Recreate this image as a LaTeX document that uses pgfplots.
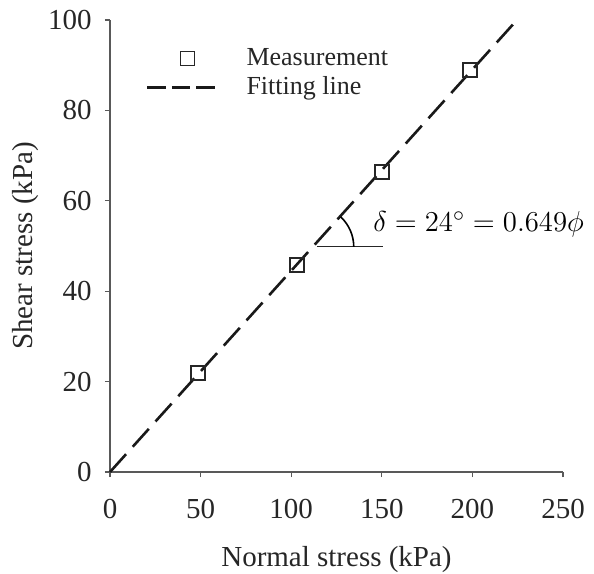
\documentclass[border=0pt]{standalone}
\usepackage{fontspec}
\setmainfont{Liberation Serif}
\usepackage{pgfplots}
\pgfplotsset{compat=1.18}
\pgfplotsset{
  sqlegend/.style={legend image code/.code={\draw[##1, mark repeat=2, mark phase=2] plot coordinates {(0pt,0pt) (20pt,0pt) (34pt,0pt)};}},
  dashlegend/.style={legend image code/.code={\draw[##1, dash pattern=on 9.3pt off 3pt] (0pt,0pt) -- (34pt,0pt);}},
}
\begin{document}
\begin{tikzpicture}
\begin{axis}[
  at={(0,0)}, anchor=south west,
  scale only axis, width=226.5pt, height=226pt,
  xmin=0, xmax=250, ymin=0, ymax=100,
  axis lines*=left,
  axis line style={-, black!65, line width=0.6pt},
  tick style={black!65, line width=0.6pt},
  tick align=outside, major tick length=2.5pt,
  xtick={0,50,...,250}, ytick={0,20,...,100},
  /pgf/number format/assume math mode=true,
  ticklabel style={font=\fontsize{14.5}{16}\selectfont, text=black!85},
  xticklabel style={yshift=-7.5pt},
  yticklabel style={xshift=-3.2pt},
  xlabel={Normal stress (kPa)}, ylabel={Shear stress (kPa)},
  label style={font=\fontsize{14.5}{16}\selectfont, text=black!85},
  xlabel style={at={(axis description cs:0.5,-0.2093)}, anchor=base},
  ylabel style={at={(axis description cs:-0.170,0.5)}, anchor=base},
  clip=false,
  legend style={draw=none, fill=none, at={(axis cs:16.3,95.5)}, anchor=north west,
    font=\fontsize{13}{15}\selectfont, text=black!85, row sep=0pt,
    /tikz/every odd column/.append style={column sep=13pt}},
  legend cell align=left,
]
\addplot[only marks, mark=square, mark size=3.5pt, black!85, mark options={line width=0.7pt}, sqlegend]
  coordinates {(48.6,21.9) (103.2,45.8) (150.1,66.4) (198.7,88.9)};
\addlegendentry{Measurement}
\addplot[black!90, line width=1.3pt, dash pattern=on 12pt off 5pt, dashlegend]
  coordinates {(0,0) (224.6,100)};
\addlegendentry{Fitting line}
\draw[black!85, line width=0.5pt] (axis cs:114.2,49.8) -- (axis cs:150.7,49.8);
\draw[black, line width=0.8pt] (axis cs:111.9,49.8) ++(20.5pt,0) arc[start angle=0, end angle=47, radius=20.5pt];
\node[anchor=base west, font=\fontsize{15.5}{18}\selectfont, inner sep=0pt] at (axis cs:145.1,53.1) {$\delta = 24^\circ = 0.649\phi$};
\end{axis}
\pgfresetboundingbox
\path[use as bounding box] (-55pt,-50.5pt) rectangle (242pt,236pt);
\end{tikzpicture}
\end{document}
